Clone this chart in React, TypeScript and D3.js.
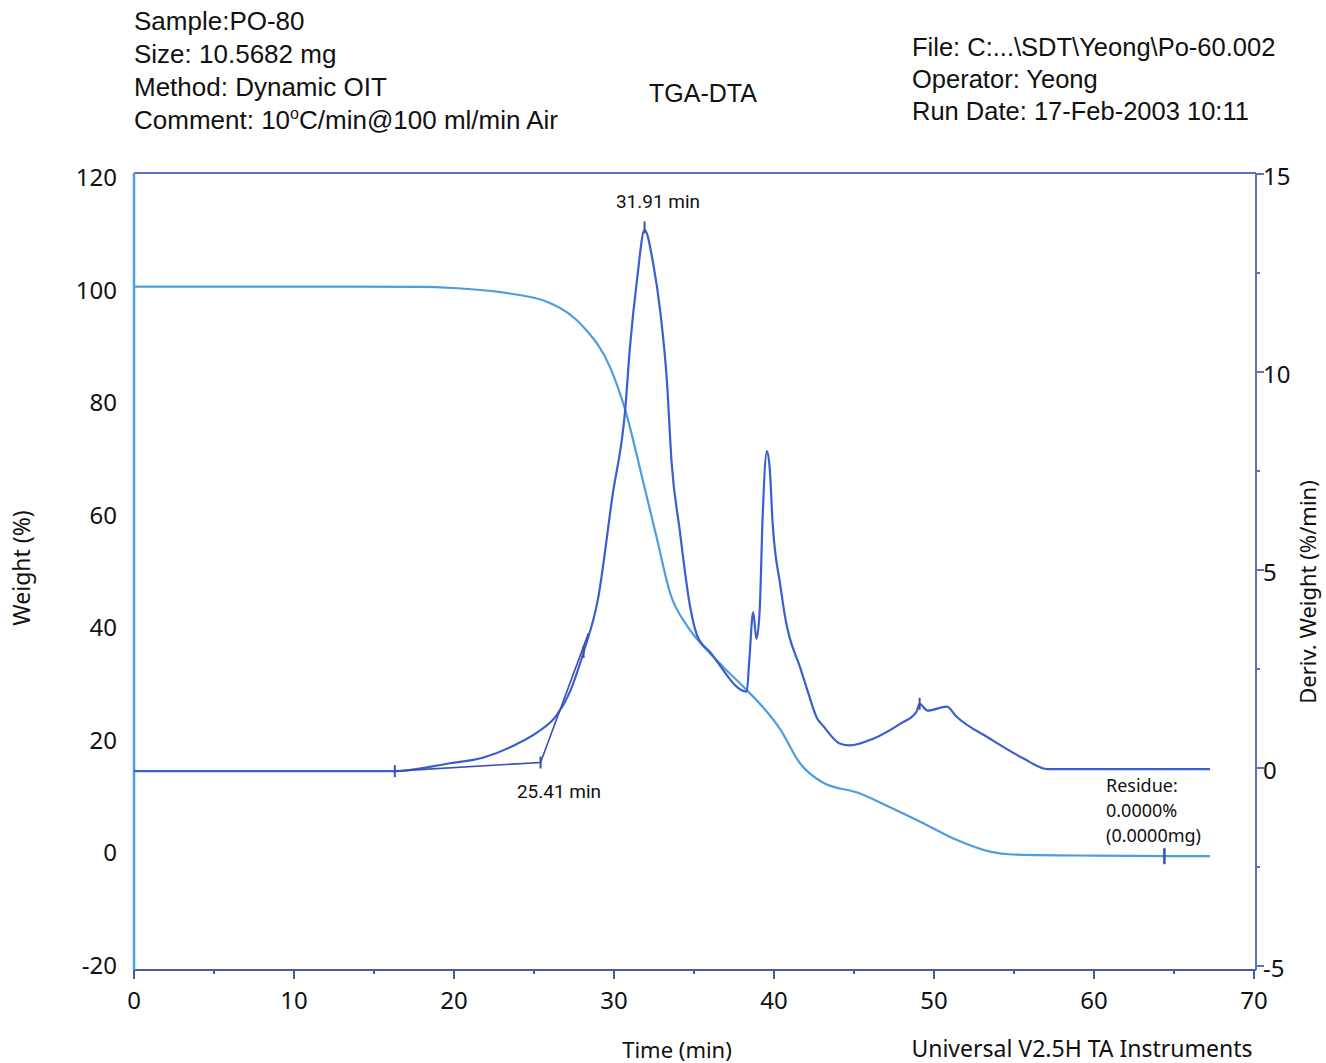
import React from 'react';
import * as d3 from 'd3';

const W = 1326;
const H = 1063;

// weight (%) vs time (min)
const weightTime = [0, 10, 18, 20, 22.9, 26.0, 28.1, 29.75, 30.7, 31.8, 32.7, 33.5, 34.6, 35.4, 36.8, 38.3, 39.3, 40.4, 41.6, 43.1, 45.2, 47.25, 49.3, 51.4, 53.5, 54.9, 60, 67.25];
const weightVal = [100, 100, 99.95, 99.75, 99.0, 97.1, 92.8, 85.7, 78.1, 65.6, 55.0, 45.6, 39.6, 36.7, 32.5, 28.3, 25.3, 21.3, 15.4, 11.8, 10.1, 7.5, 4.7, 1.7, -0.4, -0.9, -1.1, -1.2];

// deriv. weight (%/min) vs time (min)
const dtgTime = [0, 16.3, 19.75, 21.8, 23.9, 25.2, 26.4, 27.25, 28.1, 29.0, 29.9, 30.7, 31.0, 31.44, 31.91, 32.44, 32.9, 33.3, 33.6, 34.1, 34.75, 35.2, 36.0, 38.3, 38.45, 38.7, 38.9, 39.1, 39.3, 39.56, 39.75, 39.9, 40.4, 40.8, 41.0, 41.6, 42.06, 42.7, 43.06, 44.1, 44.75, 46.2, 47.9, 48.9, 49.1, 49.6, 50.8, 51.4, 53.5, 55.6, 57.1, 67.25];
const dtgVal = [-0.08, -0.08, 0.12, 0.26, 0.6, 0.9, 1.32, 1.93, 2.93, 4.27, 6.86, 9.05, 10.64, 12.33, 13.59, 12.76, 11.5, 9.81, 7.72, 6.03, 4.09, 3.34, 2.93, 1.93, 2.68, 3.94, 3.26, 3.94, 6.46, 8.0, 7.47, 6.28, 4.6, 3.59, 3.26, 2.58, 2.0, 1.25, 1.07, 0.62, 0.57, 0.74, 1.12, 1.42, 1.62, 1.45, 1.55, 1.30, 0.74, 0.24, -0.03, -0.03];

// onset construction
const onsetBase = [[16.3, -0.08], [25.41, 0.14]];
const onsetTangent = [[25.41, 0.14], [28.4, 3.4]];
const dtgMarks = [[16.3, -0.08], [25.41, 0.14], [28.1, 2.93], [31.91, 13.65], [49.1, 1.62]];
const weightMarks = [[64.4, -1.2]];

const headerLeft = ['Sample:PO-80', 'Size: 10.5682 mg', 'Method: Dynamic OIT'];
const headerRight = ['File: C:...\\SDT\\Yeong\\Po-60.002', 'Operator: Yeong', 'Run Date: 17-Feb-2003 10:11'];
const residueLines = ['Residue:', '0.0000%', '(0.0000mg)'];

const weightTicks = [120, 100, 80, 60, 40, 20, 0, -20];
const dtgTicks = [15, 10, 5, 0, -5];
const timeTicks = [0, 10, 20, 30, 40, 50, 60, 70];

const x = d3.scaleLinear().domain([0, 70]).range([134, 1254]);
const yW = d3.scaleLinear().domain([-20, 120]).range([962, 174]);
const yD = d3.scaleLinear().domain([-5, 15]).range([966, 174]);

const left = 134, right = 1256, top = 173, bottom = 970;

const wColor = '#4d9de0';
const dColor = '#3a5fd0';
const frameColor = '#5a72c0';
const font = "'Noto Sans', sans-serif";

export default function App() {
  const wLine = d3.line<number>().x((d, i) => x(weightTime[i])).y(d => yW(d)).curve(d3.curveMonotoneX);
  const dLine = d3.line<number>().x((d, i) => x(dtgTime[i])).y(d => yD(d)).curve(d3.curveMonotoneX);
  const seg = d3.line<number[]>().x(d => x(d[0])).y(d => yD(d[1]));
  const minorX = d3.range(5, 70, 10);
  const minorD = d3.range(-2.5, 15, 5);

  return (
    <svg width={W} height={H} style={{ position: 'absolute', left: 0, top: 0, background: '#fff' }}>
      <g fontFamily="'Liberation Sans', Arial, sans-serif" fill="#111">
        {headerLeft.map((t, i) => (
          <text key={t} x={134} y={30 + i * 33} fontSize={26}>{t}</text>
        ))}
        <text x={134} y={129} fontSize={26}>
          Comment: 10<tspan fontSize={16} dy={-10}>o</tspan><tspan dy={10}>C/min@100 ml/min Air</tspan>
        </text>
        <text x={703} y={102} fontSize={25} textAnchor="middle">TGA-DTA</text>
        {headerRight.map((t, i) => (
          <text key={t} x={912} y={56 + i * 32} fontSize={25.5}>{t}</text>
        ))}
      </g>

      {/* frame */}
      <line x1={left} x2={right} y1={top} y2={top} stroke={frameColor} strokeWidth={2} />
      <line x1={right} x2={right} y1={top} y2={bottom} stroke={frameColor} strokeWidth={2} />
      <line x1={left} x2={right} y1={bottom} y2={bottom} stroke="#4a5aa8" strokeWidth={2} />
      <line x1={left} x2={left} y1={top} y2={bottom} stroke="#4aa0e8" strokeWidth={2.5} />

      {/* x ticks */}
      {timeTicks.map(t => (
        <g key={t}>
          <line x1={x(t)} x2={x(t)} y1={bottom} y2={bottom + 9} stroke="#4a5aa8" strokeWidth={2} />
          <text x={x(t)} y={1009} fontSize={24} textAnchor="middle" fontFamily={font} fill="#111">{t}</text>
        </g>
      ))}
      {minorX.map(t => (
        <line key={t} x1={x(t)} x2={x(t)} y1={bottom} y2={bottom + 4} stroke="#4a5aa8" strokeWidth={2} />
      ))}

      {/* left ticks */}
      {weightTicks.map(v => (
        <text key={v} x={117} y={yW(v) + 12} fontSize={24} textAnchor="end" fontFamily={font} fill="#111">{v}</text>
      ))}

      {/* right ticks */}
      {dtgTicks.map(v => (
        <g key={v}>
          <line x1={right} x2={right + 8} y1={yD(v)} y2={yD(v)} stroke={frameColor} strokeWidth={2} />
          <text x={1263} y={yD(v) + 11} fontSize={24} fontFamily={font} fill="#111">{v}</text>
        </g>
      ))}
      {minorD.map(v => (
        <line key={v} x1={right} x2={right + 4} y1={yD(v)} y2={yD(v)} stroke={frameColor} strokeWidth={2} />
      ))}

      {/* axis titles */}
      <text transform="translate(30,568) rotate(-90)" fontSize={23} textAnchor="middle" fontFamily={font} fill="#111">Weight (%)</text>
      <text transform="translate(1316,592) rotate(-90)" fontSize={22} textAnchor="middle" fontFamily={font} fill="#111">Deriv. Weight (%/min)</text>
      <text x={677} y={1058} fontSize={22} textAnchor="middle" fontFamily={font} fill="#111">Time (min)</text>
      <text x={1082} y={1057} fontSize={23} textAnchor="middle" fontFamily={font} fill="#111">Universal V2.5H TA Instruments</text>

      {/* curves */}
      <path d={wLine(weightVal) || ''} fill="none" stroke={wColor} strokeWidth={2.2} />
      <path d={dLine(dtgVal) || ''} fill="none" stroke={dColor} strokeWidth={2.2} />
      <path d={seg(onsetBase) || ''} fill="none" stroke="#3a4fb0" strokeWidth={1.6} />
      <path d={seg(onsetTangent) || ''} fill="none" stroke="#3a4fb0" strokeWidth={1.6} />
      {dtgMarks.map(([t, v]) => (
        <line key={t} x1={x(t)} x2={x(t)} y1={yD(v) - 6} y2={yD(v) + 6} stroke="#3a4fb0" strokeWidth={2} />
      ))}
      {weightMarks.map(([t, v]) => (
        <line key={t} x1={x(t)} x2={x(t)} y1={yW(v) - 8} y2={yW(v) + 8} stroke="#3a4fb0" strokeWidth={2.5} />
      ))}

      {/* annotations */}
      <g fontFamily="Roboto, sans-serif" fontSize={19} fill="#111">
        <text x={658} y={208} textAnchor="middle">31.91 min</text>
        <text x={559} y={798} textAnchor="middle">25.41 min</text>
        {residueLines.map((t, i) => (
          <text key={t} x={1106} y={792 + i * 25} fontFamily={font} fontSize={18}>{t}</text>
        ))}
      </g>
    </svg>
  );
}
